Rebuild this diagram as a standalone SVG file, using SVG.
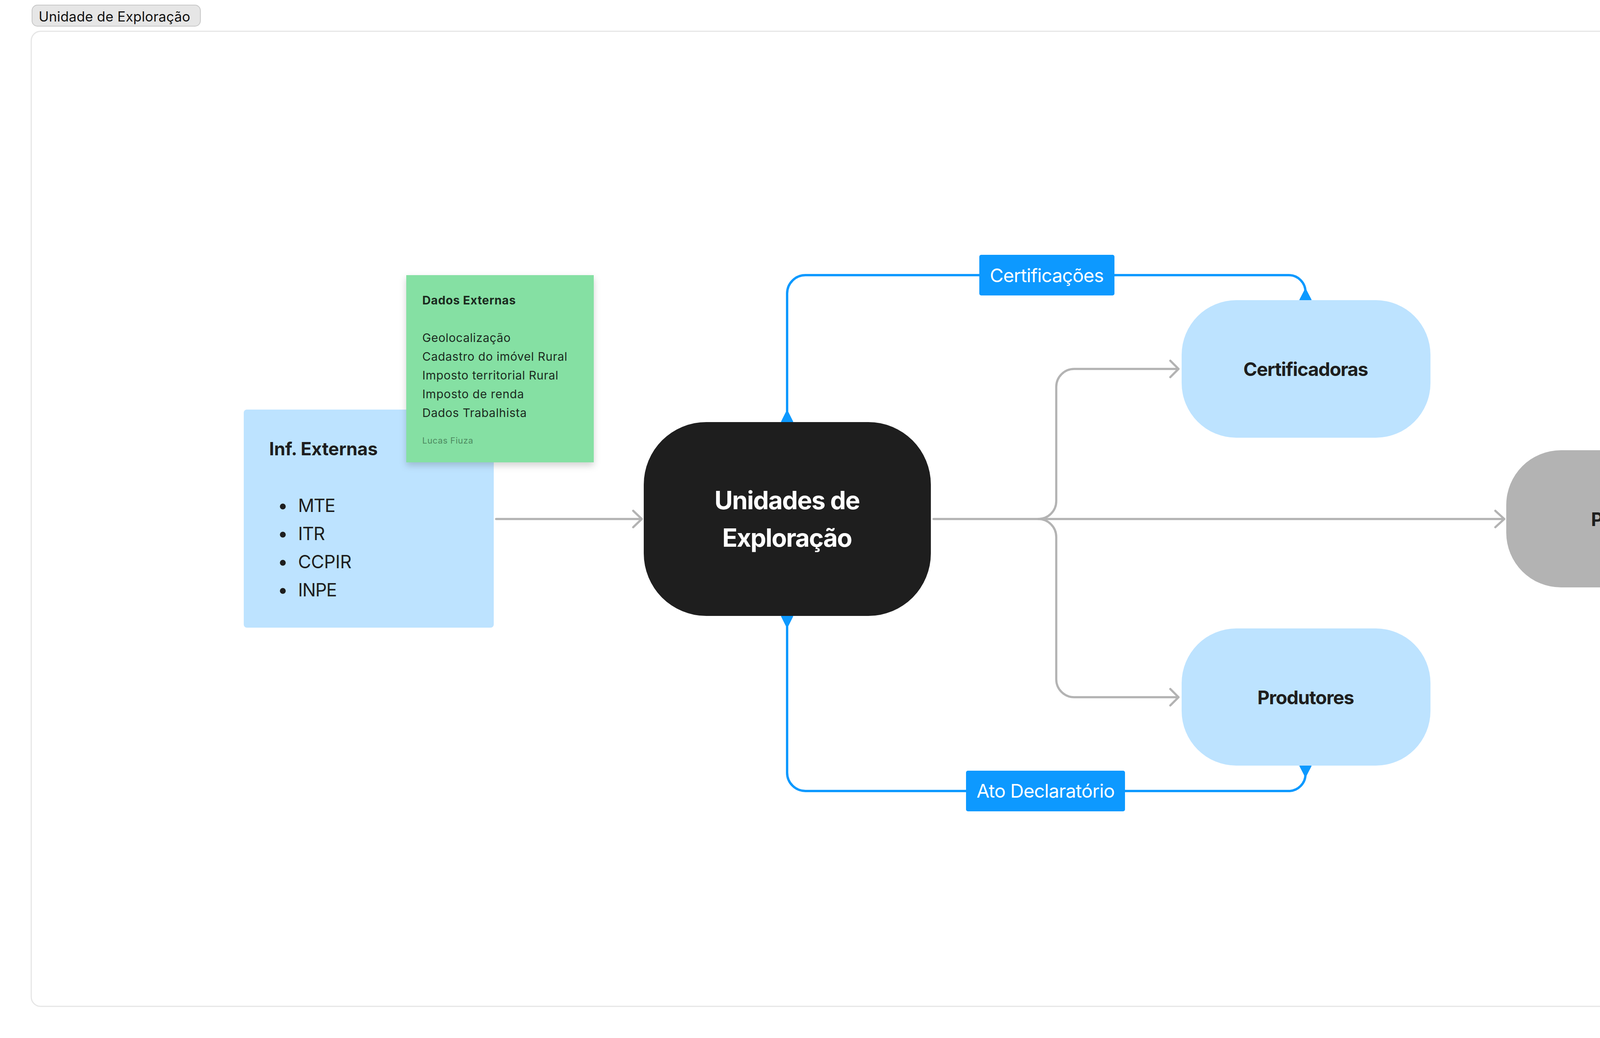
<svg xmlns="http://www.w3.org/2000/svg" width="5024" height="2656" viewBox="0 0 5024 2656">
<defs>
<style>
text{font-family:Inter,"Noto Sans","Liberation Sans",sans-serif;}
.title{font-weight:700;font-size:48px;fill:#1e1e1e;text-anchor:middle;}
.lbl{font-size:48px;fill:#ffffff;text-anchor:middle;}
.bul{font-size:46px;fill:#1e1e1e;}
.note{font-size:30px;fill:#1b2a1f;}
.gray{fill:none;stroke:#b3b3b3;stroke-width:5.5;stroke-linecap:round;stroke-linejoin:round;}
.blue{fill:none;stroke:#0d99ff;stroke-width:6;stroke-linecap:round;stroke-linejoin:round;}
.wedge{fill:#0d99ff;stroke:#0d99ff;stroke-width:3;stroke-linejoin:round;}
</style>
<filter id="shadow" x="-20%" y="-20%" width="140%" height="140%">
<feDropShadow dx="0" dy="8" stdDeviation="9" flood-color="#000000" flood-opacity="0.18"/>
</filter>
</defs>
<rect width="5024" height="2656" fill="#ffffff"/>
<g id="frame">
<rect x="80" y="80" width="4863" height="2495" rx="24" fill="#ffffff" stroke="#e6e6e6" stroke-width="3"/>
<rect x="82" y="13" width="431" height="54" rx="14" fill="#e6e6e6" stroke="#c7c7c7" stroke-width="2"/>
<text x="99" y="55" font-size="35" fill="#111111" textLength="388">Unidade de Exploração</text>
</g>
<g id="connectors">
<path class="gray" d="M1270,1328 H1643 M1621,1307 L1643,1328 L1621,1349"/>
<path class="gray" d="M2390,1328 H3851 M3828,1307 L3851,1328 L3828,1349"/>
<path class="gray" d="M2658,1328 A46,46 0 0 0 2704,1282 V990 A46,46 0 0 1 2750,944 H3017 M2996,923 L3017,944 L2996,965"/>
<path class="gray" d="M2658,1328 A46,46 0 0 1 2704,1374 V1738 A46,46 0 0 0 2750,1784 H3017 M2996,1763 L3017,1784 L2996,1805"/>
<path class="blue" d="M2015,1055 V751 A47,47 0 0 1 2062,704 H3299 A43,43 0 0 1 3342,747 V760"/>
<path class="blue" d="M2015,1600 V1977 A47,47 0 0 0 2062,2024 H3299 A43,43 0 0 0 3342,1981 V1968"/>
<polygon class="wedge" points="2001,1079 2029,1079 2015,1051"/>
<polygon class="wedge" points="3328,767 3356,767 3342,740"/>
<polygon class="wedge" points="2001,1577 2029,1577 2015,1605"/>
<polygon class="wedge" points="3328,1960 3356,1960 3342,1987"/>
<g id="label-certificacoes">
<rect x="2507" y="652" width="346" height="104" rx="5" fill="#0d99ff"/>
<text class="lbl" x="2680" y="722" textLength="292">Certificações</text>
</g>
<g id="label-ato">
<rect x="2473" y="1972" width="407" height="104" rx="5" fill="#0d99ff"/>
<text class="lbl" x="2677" y="2041" textLength="354">Ato Declaratório</text>
</g>
</g>
<g id="node-inf-externas">
<rect x="624" y="1048" width="640" height="558" rx="8" fill="#bde3ff"/>
<text x="689" y="1165" font-size="46" font-weight="700" fill="#1e1e1e" textLength="278">Inf. Externas</text>
<circle cx="724" cy="1296" r="7.5" fill="#1e1e1e"/>
<circle cx="724" cy="1368" r="7.5" fill="#1e1e1e"/>
<circle cx="724" cy="1440" r="7.5" fill="#1e1e1e"/>
<circle cx="724" cy="1512" r="7.5" fill="#1e1e1e"/>
<text class="bul" x="763" y="1310" textLength="96">MTE</text>
<text class="bul" x="763" y="1382" textLength="69">ITR</text>
<text class="bul" x="763" y="1454" textLength="137">CCPIR</text>
<text class="bul" x="763" y="1526" textLength="100">INPE</text>
</g>
<g id="node-dados-externas">
<rect x="1040" y="704" width="480" height="479" fill="#85e0a3" filter="url(#shadow)"/>
<text class="note" x="1081" y="779" font-weight="700" textLength="239">Dados Externas</text>
<text class="note" x="1081" y="875" textLength="226">Geolocalização</text>
<text class="note" x="1081" y="923" textLength="371">Cadastro do imóvel Rural</text>
<text class="note" x="1081" y="971" textLength="348">Imposto territorial Rural</text>
<text class="note" x="1081" y="1019" textLength="260">Imposto de renda</text>
<text class="note" x="1081" y="1067" textLength="267">Dados Trabalhista</text>
<text x="1081" y="1135" font-size="22" fill="#4d8a60" textLength="130">Lucas Fiuza</text>
</g>
<g id="node-unidades">
<rect x="1648" y="1080" width="735" height="496" rx="160" fill="#1e1e1e"/>
<text x="2015.5" y="1303" font-size="64" font-weight="700" fill="#ffffff" text-anchor="middle" textLength="373">Unidades de</text>
<text x="2015.5" y="1399" font-size="64" font-weight="700" fill="#ffffff" text-anchor="middle" textLength="333">Exploração</text>
</g>
<g id="node-certificadoras">
<rect x="3025" y="768" width="637" height="352" rx="140" fill="#bde3ff"/>
<text class="title" x="3343" y="962" textLength="320">Certificadoras</text>
</g>
<g id="node-produtores">
<rect x="3025" y="1608" width="637" height="351" rx="140" fill="#bde3ff"/>
<text class="title" x="3343" y="1802" textLength="248">Produtores</text>
</g>
<g id="node-produtos">
<rect x="3856" y="1152" width="639" height="351" rx="140" fill="#b3b3b3"/>
<text class="title" x="4175.5" y="1346" textLength="205">Produtos</text>
</g>
</svg>
